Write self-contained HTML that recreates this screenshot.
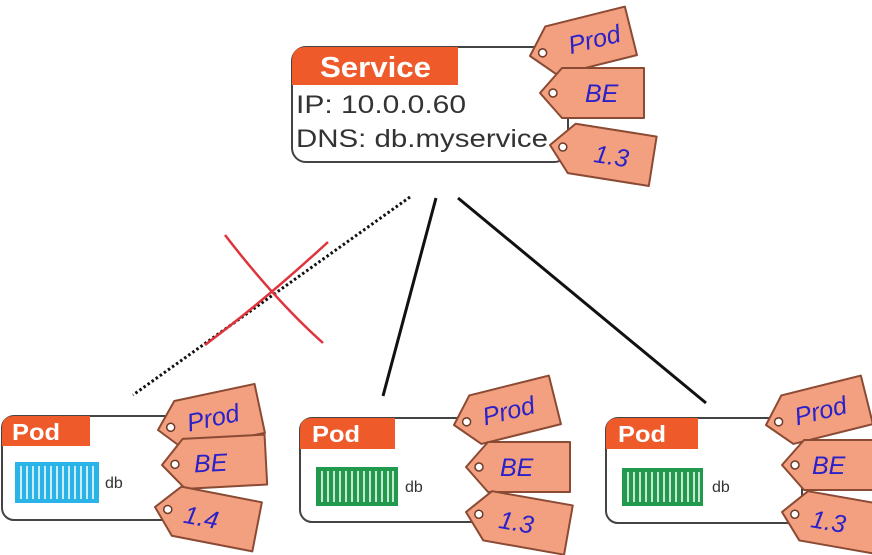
<!DOCTYPE html>
<html><head><meta charset="utf-8"><style>
html,body{margin:0;padding:0;background:#fff;}
svg{display:block}
.h{font-family:"Liberation Sans",sans-serif;font-weight:bold;fill:#fff}
.t{font-family:"Liberation Sans",sans-serif;fill:#333}
.w{font-family:"Liberation Sans",sans-serif;font-style:italic;fill:#2a22c8;font-size:25px}
</style></head><body>
<svg width="872" height="555" viewBox="0 0 872 555">
<defs>
<g id="tag">
<path d="M0 0 L22 -25 L104 -25 L104 25 L22 25 Z" fill="#f3a080" stroke="#8a4a33" stroke-width="2" stroke-linejoin="round"/>
<circle cx="13" cy="0" r="4" fill="#fff" stroke="#6a3a28" stroke-width="1.5"/>
</g>
</defs>

<!-- connectors -->
<line x1="410" y1="197" x2="133" y2="395" stroke="#111" stroke-width="3" stroke-dasharray="2.5 2.5"/>
<line x1="436" y1="198" x2="383" y2="396" stroke="#111" stroke-width="3"/>
<line x1="458" y1="198" x2="706" y2="403" stroke="#111" stroke-width="3"/>
<path d="M225 235 Q275 300 323 343" stroke="#e0343c" stroke-width="2.5" fill="none"/>
<path d="M205 345 Q265 300 328 242" stroke="#e0343c" stroke-width="2.5" fill="none"/>

<!-- service -->
<rect x="292" y="47" width="276" height="115" rx="14" fill="#fff" stroke="#444" stroke-width="2"/>
<path d="M292 85 L292 61 Q292 47 306 47 L458 47 L458 85 Z" fill="#ee5a2a"/>
<text x="320" y="77" class="h" font-size="29" textLength="111" lengthAdjust="spacingAndGlyphs">Service</text>
<text x="296" y="113" class="t" font-size="25" textLength="170" lengthAdjust="spacingAndGlyphs">IP: 10.0.0.60</text>
<text x="296" y="147" class="t" font-size="25" textLength="252" lengthAdjust="spacingAndGlyphs">DNS: db.myservice</text>
<g transform="translate(530,56) rotate(-14)"><use href="#tag"/><text x="40" y="8" class="w">Prod</text></g>
<g transform="translate(540,93)"><use href="#tag"/><text x="45" y="9" class="w">BE</text></g>
<g transform="translate(550,145) rotate(9)"><use href="#tag"/><text x="45" y="10" class="w" font-size="30">1.3</text></g>

<!-- pod1 -->
<rect x="2" y="416" width="190" height="104" rx="12" fill="#fff" stroke="#444" stroke-width="2"/>
<path d="M2 446 L2 428 Q2 416 14 416 L90 416 L90 446 Z" fill="#ee5a2a"/>
<text x="12" y="440" class="h" font-size="23" textLength="48" lengthAdjust="spacingAndGlyphs">Pod</text>
<rect x="15" y="462" width="84" height="41" fill="#29b3e6"/>
<g stroke="#fff" stroke-width="1.5"><path d="M21 466V499M27 466V499M33 466V499M39 466V499M45 466V499M51 466V499M57 466V499M63 466V499M69 466V499M75 466V499M81 466V499M87 466V499M93 466V499"/></g>
<text x="105" y="488" class="t" font-size="16">db</text>
<g transform="translate(158,430) rotate(-12)"><use href="#tag"/><text x="30" y="8" class="w">Prod</text></g>
<g transform="translate(162,465) rotate(-3)"><use href="#tag"/><text x="32" y="9" class="w">BE</text></g>
<g transform="translate(155,507) rotate(11)"><use href="#tag"/><text x="30" y="10" class="w" font-size="28">1.4</text></g>

<!-- pod2 -->
<rect x="300" y="418" width="195" height="104" rx="12" fill="#fff" stroke="#444" stroke-width="2"/>
<path d="M300 449 L300 430 Q300 418 312 418 L395 418 L395 449 Z" fill="#ee5a2a"/>
<text x="312" y="442" class="h" font-size="23" textLength="48" lengthAdjust="spacingAndGlyphs">Pod</text>
<rect x="316" y="467" width="82" height="39" fill="#219a4d"/>
<g stroke="#fff" stroke-width="1.5"><path d="M322 471V502M328 471V502M334 471V502M340 471V502M346 471V502M352 471V502M358 471V502M364 471V502M370 471V502M376 471V502M382 471V502M388 471V502M393 471V502"/></g>
<text x="405" y="492" class="t" font-size="16">db</text>
<g transform="translate(454,425) rotate(-14)"><use href="#tag"/><text x="30" y="8" class="w" font-size="22">Prod</text></g>
<g transform="translate(466,467)"><use href="#tag"/><text x="34" y="9" class="w" font-size="22">BE</text></g>
<g transform="translate(466,512) rotate(10)"><use href="#tag"/><text x="34" y="10" class="w" font-size="27">1.3</text></g>

<!-- pod3 -->
<rect x="606" y="418" width="196" height="105" rx="12" fill="#fff" stroke="#444" stroke-width="2"/>
<path d="M606 449 L606 430 Q606 418 618 418 L698 418 L698 449 Z" fill="#ee5a2a"/>
<text x="618" y="442" class="h" font-size="23" textLength="48" lengthAdjust="spacingAndGlyphs">Pod</text>
<rect x="622" y="468" width="81" height="38" fill="#219a4d"/>
<g stroke="#fff" stroke-width="1.5"><path d="M628 472V502M634 472V502M640 472V502M646 472V502M652 472V502M658 472V502M664 472V502M670 472V502M676 472V502M682 472V502M688 472V502M694 472V502M699 472V502"/></g>
<text x="712" y="492" class="t" font-size="16">db</text>
<g transform="translate(766,425) rotate(-14)"><use href="#tag"/><text x="30" y="8" class="w" font-size="22">Prod</text></g>
<g transform="translate(782,465)"><use href="#tag"/><text x="30" y="9" class="w" font-size="22">BE</text></g>
<g transform="translate(782,512) rotate(10)"><use href="#tag"/><text x="30" y="10" class="w" font-size="27">1.3</text></g>
</svg>
</body></html>
